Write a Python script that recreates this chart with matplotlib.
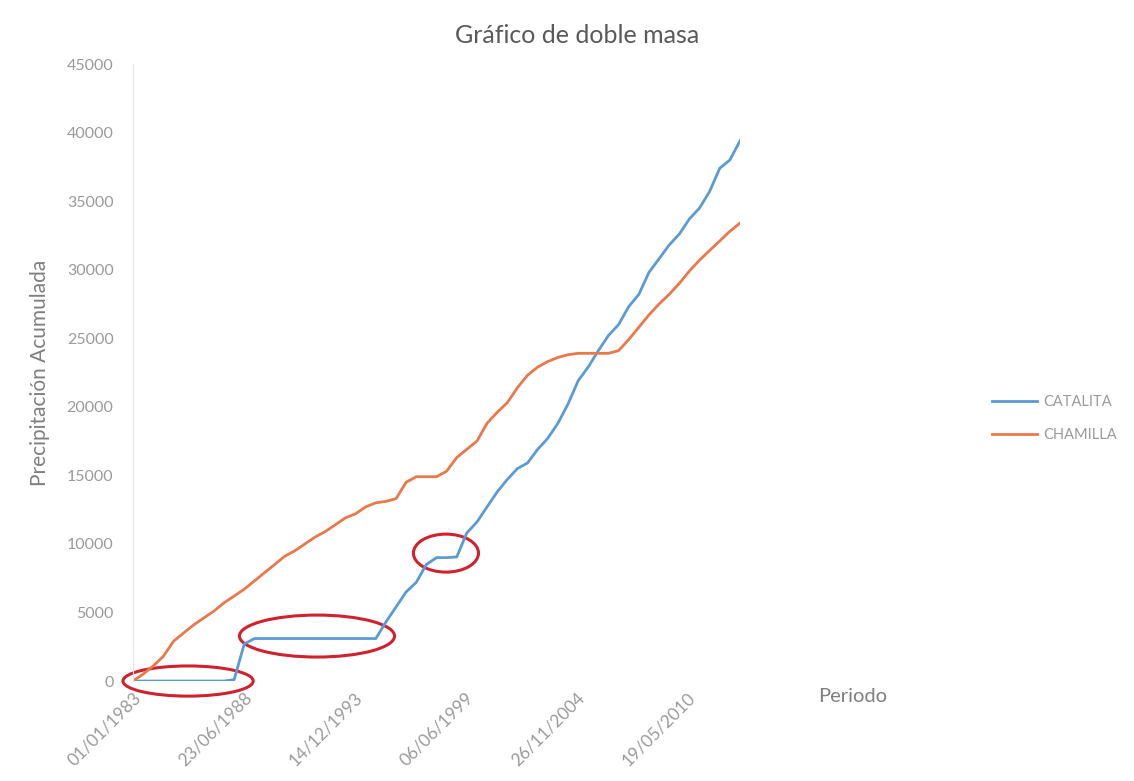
import matplotlib
matplotlib.use("Agg")
import matplotlib.pyplot as plt
import matplotlib.dates as mdates
from matplotlib.patches import Ellipse
import numpy as np
import datetime as dt

plt.rcParams['font.family'] = ['Lato', 'DejaVu Sans']

# semiannual sample dates (Jan 1 / Jul 1), 1983 - 2013
years = [1983 + i * 0.5 for i in range(61)]

catalita = [0, 0, 0, 0, 0, 0, 0, 0, 0, 0,
            100, 2700, 3100, 3100, 3100, 3100, 3100, 3100, 3100, 3100,
            3100, 3100, 3100, 3100, 3100, 4300, 5400, 6500, 7200, 8500,
            9000, 9000, 9050, 10800, 11600, 12700, 13800, 14700, 15500, 15900,
            16900, 17700, 18800, 20200, 21900, 22900, 24100, 25200, 26000, 27300,
            28200, 29800, 30800, 31800, 32600, 33700, 34500, 35700, 37400, 38000,
            39400]

chamilla = [0, 500, 1100, 1800, 2900, 3500, 4100, 4600, 5100, 5700,
            6200, 6700, 7300, 7900, 8500, 9100, 9500, 10000, 10500, 10900,
            11400, 11900, 12200, 12700, 13000, 13100, 13300, 14500, 14900, 14900,
            14900, 15300, 16300, 16900, 17500, 18800, 19600, 20300, 21400, 22300,
            22900, 23300, 23600, 23800, 23900, 23900, 23900, 23900, 24100, 24900,
            25800, 26700, 27500, 28200, 29000, 29900, 30700, 31400, 32100, 32800,
            33400]

series_names = ["CATALITA", "CHAMILLA"]
tick_dates = ["01/01/1983", "23/06/1988", "14/12/1993", "06/06/1999", "26/11/2004", "19/05/2010"]
y_ticks = [0, 5000, 10000, 15000, 20000, 25000, 30000, 35000, 40000, 45000]

# annotation ellipses: (center date, width days, center value, height value)
ellipses = [("1985-09-21", 2350, 0, 2200),
            ("1992-02-04", 2800, 3280, 3060),
            ("1998-06-20", 1175, 9330, 2770)]


def to_date(y):
    yr = int(y)
    return dt.date(yr, 1, 1) if abs(y - yr) < 1e-6 else dt.date(yr, 7, 1)


dates = [to_date(y) for y in years]

fig = plt.figure(figsize=(11.34, 7.81), dpi=100)
ax = fig.add_axes([0.1173, 0.128, 0.5353, 0.790])

blue = '#5B9BD5'
orange = '#E9784A'
ax.plot(dates, catalita, color=blue, lw=2.0, label=series_names[0])
ax.plot(dates, chamilla, color=orange, lw=2.0, label=series_names[1])

for cd, w, cy, h in ellipses:
    c = mdates.date2num(dt.datetime.strptime(cd, "%Y-%m-%d"))
    e = Ellipse((c, cy), w, h, fill=False, edgecolor='#D0222E', lw=2.2, clip_on=False)
    ax.add_patch(e)

ax.set_xlim(mdates.date2num(dt.date(1983, 1, 1)), mdates.date2num(dt.date(2013, 1, 1)))
ax.set_ylim(0, 45000)

tk = [mdates.date2num(dt.datetime.strptime(s, "%d/%m/%Y")) for s in tick_dates]
ax.set_xticks(tk)
ax.set_xticklabels(tick_dates, rotation=45, ha='right', rotation_mode='anchor',
                   fontsize=12.5, color='#9a9a9a')
ax.set_yticks(y_ticks)
ax.set_yticklabels([str(v) for v in y_ticks], fontsize=11.5, color='#9a9a9a')
ax.tick_params(axis='both', length=0)
ax.tick_params(axis='y', pad=14)
ax.tick_params(axis='x', pad=6)

for s in ['top', 'right', 'bottom']:
    ax.spines[s].set_visible(False)
ax.spines['left'].set_color('#e6e6e6')

ax.set_ylabel("Precipitación Acumulada", fontsize=15, color='#7f7f7f', labelpad=12)
fig.text(0.509, 0.955, "Gráfico de doble masa", ha='center', va='center',
         fontsize=18, color='#595959')
fig.text(0.752, 0.108, "Periodo", ha='center', va='center', fontsize=14.5, color='#7f7f7f')

leg = fig.legend(loc='center left', bbox_to_anchor=(0.872, 0.464), frameon=False,
                 fontsize=10.5, handlelength=3.1, handletextpad=0.4, labelspacing=1.3,
                 borderaxespad=0, borderpad=0.2)
for t in leg.get_texts():
    t.set_color('#9a9a9a')

fig.savefig("out.png", dpi=100, facecolor='white')
